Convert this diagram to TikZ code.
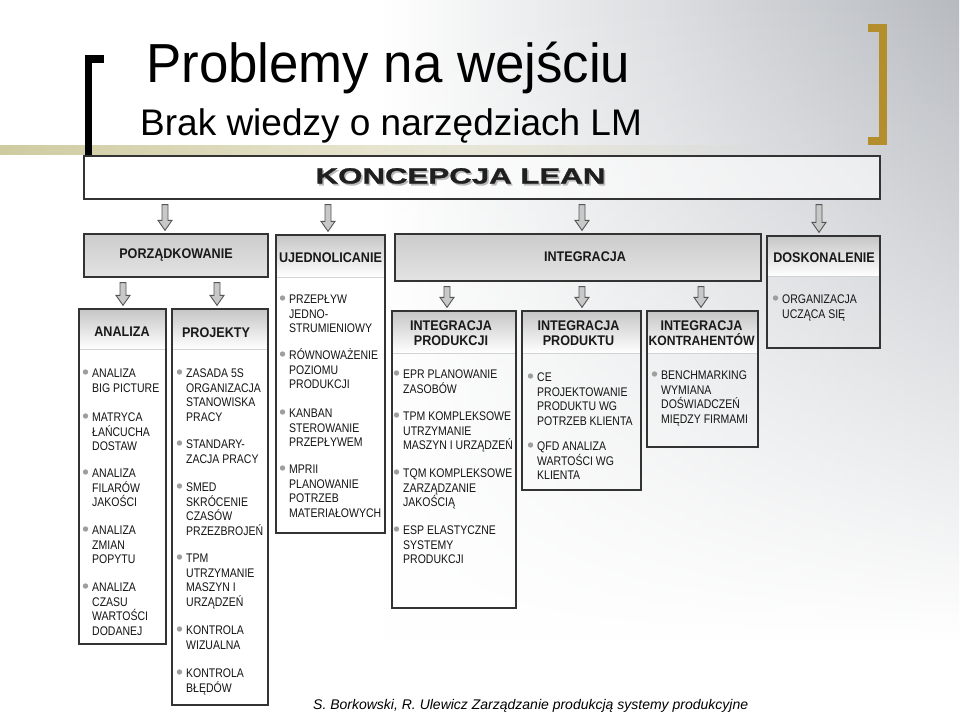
\documentclass[tikz,border=0pt]{standalone}
\usepackage{fontspec}
\setmainfont{Liberation Sans}
\newfontfamily\itemfont[FakeStretch=0.84]{Liberation Sans}
\newfontfamily\headfont[FakeStretch=0.9]{Liberation Sans}
\newfontfamily\titlefont[FakeStretch=0.96]{Liberation Sans}
\newfontfamily\leanfont[FakeStretch=1.42,FakeBold=1.2]{Liberation Sans}
\usetikzlibrary{calc,fadings}
\definecolor{oliveband}{HTML}{CFCBA0}
\definecolor{goldbr}{HTML}{B48E2C}
\definecolor{bggray}{HTML}{B7BBC0}
\definecolor{edgecol}{HTML}{333333}
\definecolor{bulcol}{HTML}{9E9E9E}
\definecolor{arrfill}{HTML}{C8C8C8}
\definecolor{arredge}{HTML}{555555}
\tikzfading[name=bgfade, top color=transparent!0, middle color=transparent!15, bottom color=transparent!100]
\tikzfading[name=bandfade, left color=transparent!0, middle color=transparent!0, right color=transparent!100]
\tikzset{
  box/.style={draw=edgecol, line width=1.3pt, inner sep=0pt},
  hdr/.style={font=\headfont\bfseries\fontsize{14}{16}\selectfont, text=black!90, inner sep=0pt, anchor=base},
  itm/.style={font=\itemfont\fontsize{12.5}{15}\selectfont, text=black!92, inner sep=0pt, anchor=base west},
  arrowst/.style={draw=arredge, fill=arrfill, line width=0.9pt, line join=miter},
  sepl/.style={draw=gray!35, line width=0.6pt},
  hshade/.style={top color=gray!45, bottom color=white},
  bshade/.style={top color=gray!40, middle color=white, bottom color=gray!22},
}
\newcommand\litem[3]{%
  \fill[bulcol] (#1-6.5,#2-5.5) circle (2.7);
  \foreach \t [count=\i from 0] in {#3} {\node[itm] at (#1,#2+\i*14.5) {\t};}
}
\newcommand\barrow[3]{%
  \path (#1.south -| #3,0) ++(0,5) coordinate (ba) (#2.north -| #3,0) ++(0,-3) coordinate (bb);
  \draw[arrowst] let \p1=(ba), \p2=(bb) in
    (\x1-3pt,\y1) -- (\x1+3pt,\y1) -- (\x1+3pt,\y2+10pt) -- (\x1+7pt,\y2+10pt)
    -- (\x1,\y2) -- (\x1-7pt,\y2+10pt) -- (\x1-3pt,\y2+10pt) -- cycle;
}
\begin{document}
\begin{tikzpicture}[x=1pt,y=-1pt]
\useasboundingbox (0,0) rectangle (960,712);
% background
\fill[white] (0,0) rectangle (960,712);
\shade[left color=white, middle color=bggray!75, right color=bggray, path fading=bgfade] (380,0) rectangle (960,640);
\fill[oliveband, path fading=bandfade] (0,145) rectangle (760,155);
% brackets
\fill[black] (85,55) rectangle (92,157);
\fill[black] (85,55) rectangle (104,63);
\fill[goldbr] (879,24) rectangle (887,145);
\fill[goldbr] (868,24) rectangle (887,32);
\fill[goldbr] (868,137) rectangle (887,145);
% titles
\node[anchor=base west, inner sep=0pt, font=\titlefont\fontsize{55}{60}\selectfont] (title) at (146,82.7) {Problemy na wejściu};
\node[anchor=base west, inner sep=0pt, font=\fontsize{37}{44}\selectfont] (subtitle) at (140,135) {Brak wiedzy o narzędziach LM};
% KONCEPCJA LEAN
\node[box, fill=white, fill opacity=0.6, minimum width=796pt, minimum height=43pt] (kl) at (482,177.5) {};
\node[anchor=base, inner sep=0pt, font=\leanfont\bfseries\fontsize{22}{26}\selectfont, text=black!88] (lean) at (460.5,183.5)
  {\makebox[0pt][l]{\hspace{1.6pt}\raisebox{-1.8pt}{\textcolor{gray!55}{KONCEPCJA LEAN}}}KONCEPCJA LEAN};
% second row
\shade[bshade] (84,234) rectangle (268,277);
\node[box, minimum width=184pt, minimum height=43pt] (porz) at (176,255.5) {};
\node[hdr] (porzt) at (176,258) {PORZĄDKOWANIE};
\shade[hshade] (276,235) rectangle (385,277);
\draw[sepl] (276,277) -- (385,277);
\node[box, minimum width=109pt, minimum height=298pt] (ujed) at (330.5,384) {};
\node[hdr] (ujedt) at (330.5,262) {UJEDNOLICANIE};
\shade[bshade] (395,234) rectangle (761,281);
\node[box, minimum width=366pt, minimum height=47pt] (integ) at (578,257.5) {};
\node[hdr] (integt) at (585,261) {INTEGRACJA};
\shade[hshade] (767,236) rectangle (880,276);
\draw[sepl] (767,276) -- (880,276);
\node[box, minimum width=113pt, minimum height=112pt] (dosk) at (823.5,292) {};
\node[hdr] (doskt) at (824,262) {DOSKONALENIE};
% third row
\shade[hshade] (79,309) rectangle (166,349);
\draw[sepl] (79,349) -- (166,349);
\node[box, minimum width=87pt, minimum height=335pt] (anal) at (122.5,476.5) {};
\node[hdr] (analt) at (122,336) {ANALIZA};
\shade[hshade] (172,309) rectangle (268,349);
\draw[sepl] (172,349) -- (268,349);
\node[box, minimum width=96pt, minimum height=396pt] (proj) at (220,507) {};
\node[hdr] (projt) at (216,337) {PROJEKTY};
\shade[hshade] (392,311) rectangle (516,353);
\draw[sepl] (392,353) -- (516,353);
\node[box, minimum width=124pt, minimum height=297pt] (ip) at (454,459.5) {};
\node[hdr] (ipt1) at (451,330) {INTEGRACJA};
\node[hdr] (ipt2) at (451,345) {PRODUKCJI};
\shade[hshade] (522,311) rectangle (641,353);
\draw[sepl] (522,353) -- (641,353);
\node[box, minimum width=119pt, minimum height=179pt] (ipt) at (581.5,400.5) {};
\node[hdr] (iptt1) at (578.5,330) {INTEGRACJA};
\node[hdr] (iptt2) at (578.5,345) {PRODUKTU};
\shade[hshade] (647,311) rectangle (758,353);
\draw[sepl] (647,353) -- (758,353);
\node[box, minimum width=111pt, minimum height=136pt] (ik) at (702.5,379) {};
\node[hdr] (ikt1) at (701.5,330) {INTEGRACJA};
\node[hdr, font=\headfont\bfseries\fontsize{13.5}{16}\selectfont] (ikt2) at (701.5,345) {KONTRAHENTÓW};
% arrows
\barrow{kl}{porz}{165}
\barrow{kl}{ujed}{328}
\barrow{kl}{integ}{582}
\barrow{kl}{dosk}{819}
\barrow{porz}{anal}{123}
\barrow{porz}{proj}{217}
\barrow{integ}{ip}{447}
\barrow{integ}{ipt}{582}
\barrow{integ}{ik}{701}
% lists
\litem{92}{377.5}{ANALIZA,BIG PICTURE}
\litem{92}{421.5}{MATRYCA,ŁAŃCUCHA,DOSTAW}
\litem{92}{477.5}{ANALIZA,FILARÓW,JAKOŚCI}
\litem{92}{534.5}{ANALIZA,ZMIAN,POPYTU}
\litem{92}{591.5}{ANALIZA,CZASU,WARTOŚCI,DODANEJ}
\litem{186}{377.5}{ZASADA 5S,ORGANIZACJA,STANOWISKA,PRACY}
\litem{186}{448.5}{STANDARY-,ZACJA PRACY}
\litem{186}{491.5}{SMED,SKRÓCENIE,CZASÓW,PRZEZBROJEŃ}
\litem{186}{562.5}{TPM,UTRZYMANIE,MASZYN I,URZĄDZEŃ}
\litem{186}{634.5}{KONTROLA,WIZUALNA}
\litem{186}{677.5}{KONTROLA,BŁĘDÓW}
\litem{289}{303.5}{PRZEPŁYW,JEDNO-,STRUMIENIOWY}
\litem{289}{359.5}{RÓWNOWAŻENIE,POZIOMU,PRODUKCJI}
\litem{289}{417.5}{KANBAN,STEROWANIE,PRZEPŁYWEM}
\litem{289}{473.5}{MPRII,PLANOWANIE,POTRZEB,MATERIAŁOWYCH}
\litem{403}{378.5}{EPR PLANOWANIE,ZASOBÓW}
\litem{403}{420.5}{TPM KOMPLEKSOWE,UTRZYMANIE,MASZYN I URZĄDZEŃ}
\litem{403}{477.5}{TQM KOMPLEKSOWE,ZARZĄDZANIE,JAKOŚCIĄ}
\litem{403}{534.5}{ESP ELASTYCZNE,SYSTEMY,PRODUKCJI}
\litem{537}{381.5}{CE,PROJEKTOWANIE,PRODUKTU WG,POTRZEB KLIENTA}
\litem{537}{450.5}{QFD ANALIZA,WARTOŚCI WG,KLIENTA}
\litem{661}{379.5}{BENCHMARKING,WYMIANA,DOŚWIADCZEŃ,MIĘDZY FIRMAMI}
\litem{782}{303.5}{ORGANIZACJA,UCZĄCA SIĘ}
% footer
\node[anchor=base west, inner sep=0pt, font=\itshape\fontsize{14}{16}\selectfont] (foot) at (313,709) {S. Borkowski, R. Ulewicz Zarządzanie produkcją systemy produkcyjne};
\end{tikzpicture}
\end{document}
